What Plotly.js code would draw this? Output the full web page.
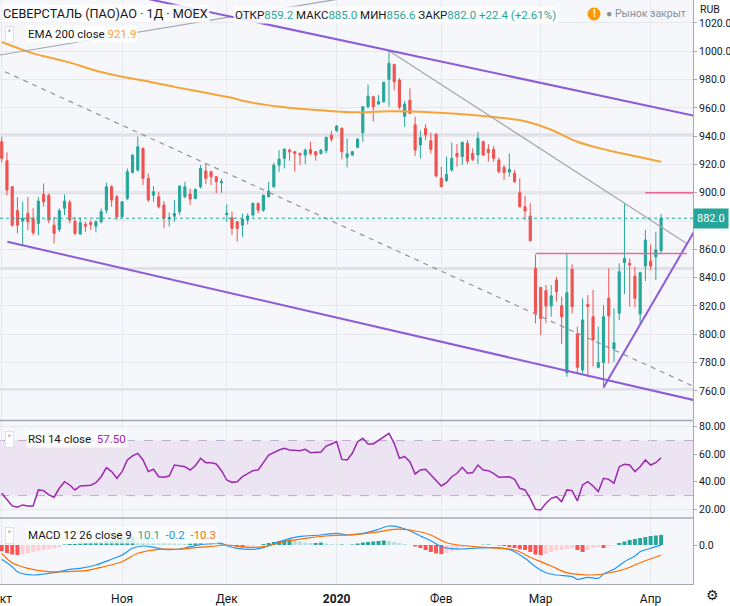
<!DOCTYPE html>
<html>
<head>
<meta charset="utf-8">
<script src="https://cdn.plot.ly/plotly-3.0.1.min.js"></script>
<style>
  html, body { margin: 0; padding: 0; background: #fff; }
  #chart { width: 730px; height: 606px; }
</style>
</head>
<body>
<div id="chart"></div>
<script>
// daily candles, 1 Oct 2019 .. 3 Apr 2020 (bar index = trading day)
const opens = [
  936.0, 922.6, 904.2, 887.3, 880.0, 885.4, 881.9, 878.3, 898.8, 898.3,
  877.1, 874.1, 889.0, 893.2, 880.0, 870.8, 877.6, 878.8, 876.4, 879.5,
  887.7, 904.2, 897.2,
  883.0, 896.0, 914.4, 916.0, 931.3, 910.1, 898.3, 897.2, 891.3, 881.5,
  883.4, 886.6, 897.2, 899.1, 896.0, 904.2, 915.3, 914.8, 911.3, 907.0,
  884.5, 882.3, 879.5, 877.1, 880.7, 884.2, 892.5, 887.7, 897.2, 904.2,
  919.5, 924.3, 930.1, 929.0, 927.8, 926.6, 930.6, 929.0, 927.8, 929.7, 940.7,
  943.8, 945.5, 925.0, 926.6, 932.0, 942.4, 960.8, 967.8, 962.7, 964.3,
  980.1, 990.7, 979.6, 954.0, 965.3, 948.0, 933.7, 945.5, 936.8, 941.3,
  910.2, 908.5, 916.0, 927.8, 925.5, 934.9, 927.8, 926.7, 936.1, 930.7,
  930.7, 923.1, 917.9, 914.6, 913.7, 900.0, 890.1, 883.5, 846.6,
  833.1, 830.8, 819.9, 838.3, 820.2, 772.8, 845.9, 800.2, 774.7, 821.1,
  812.4, 776.6, 780.0, 825.4, 789.6, 814.8, 850.6, 850.1, 841.1, 814.3, 848.2,
  851.7, 854.8, 859.2
];
const highs = [
  939.6, 928.5, 904.5, 897.0, 893.6, 897.0, 889.0, 897.0, 906.6, 899.5,
  883.0, 889.0, 898.8, 894.8, 883.0, 882.6, 879.5, 880.7, 880.5, 889.0,
  907.0, 905.4, 898.3,
  893.8, 917.2, 927.1, 939.6, 932.0, 913.6, 904.7, 900.7, 894.1, 886.0,
  894.8, 905.4, 907.8, 903.0, 903.0, 919.5, 920.7, 915.5, 911.8, 910.0,
  891.7, 886.6, 879.8, 885.4, 885.4, 893.0, 893.0, 898.5, 907.8, 921.2,
  930.1, 931.3, 931.3, 929.5, 928.3, 931.3, 936.0, 929.5, 931.0, 939.6, 943.8,
  947.8, 946.2, 938.4, 929.5, 938.4, 961.3, 976.6, 968.5, 969.0, 978.5,
  1000.5, 991.0, 981.0, 965.0, 973.8, 953.8, 943.9, 948.3, 942.4, 942.0,
  918.4, 925.5, 935.4, 934.4, 936.1, 937.3, 931.4, 943.1, 937.0, 934.2,
  933.0, 924.8, 919.6, 927.8, 916.0, 910.2, 897.7, 892.5, 856.0,
  833.5, 834.8, 834.8, 840.7, 826.5, 856.7, 849.4, 805.3, 825.4, 827.7,
  831.3, 805.3, 820.6, 846.6, 818.3, 850.1, 892.5, 853.6, 847.7, 844.2, 873.7,
  863.5, 872.5, 885.0
];
const lows = [
  921.2, 898.0, 876.0, 871.3, 863.0, 873.6, 870.0, 870.0, 890.1, 878.3,
  864.2, 872.4, 884.2, 878.3, 870.0, 870.5, 872.4, 873.6, 872.0, 878.3,
  885.4, 890.1, 880.7,
  882.5, 894.8, 913.5, 914.8, 905.4, 893.6, 893.6, 889.0, 874.8, 876.0,
  879.5, 884.2, 896.0, 891.3, 895.3, 903.0, 906.0, 905.4, 899.5, 900.0,
  879.5, 870.1, 865.4, 868.9, 877.6, 883.0, 885.4, 886.5, 896.5, 903.5,
  914.8, 917.2, 922.6, 914.8, 919.5, 920.3, 926.6, 922.6, 927.0, 928.0, 936.0,
  943.0, 923.6, 917.9, 926.0, 931.5, 936.0, 959.6, 950.2, 962.0, 963.5,
  960.8, 972.4, 958.9, 946.4, 955.6, 926.0, 924.3, 937.3, 927.8, 910.9,
  903.8, 907.8, 914.9, 918.4, 919.6, 920.3, 922.4, 920.3, 926.0, 922.0,
  922.0, 913.7, 909.0, 911.3, 907.1, 889.7, 880.7, 865.4, 807.7,
  799.4, 807.7, 812.4, 823.0, 793.1, 770.0, 814.8, 771.9, 772.3, 770.0,
  777.1, 775.9, 762.4, 779.4, 780.4, 810.0, 828.4, 819.5, 819.0, 807.7, 837.6,
  845.4, 838.3, 856.6
];
const closes = [
  924.3, 901.9, 877.1, 877.1, 882.0, 879.5, 871.7, 894.1, 893.6, 880.7,
  871.3, 887.3, 894.1, 880.7, 871.3, 878.8, 876.4, 877.6, 879.5, 886.6,
  904.2, 894.8, 883.0,
  893.6, 914.8, 926.6, 932.5, 910.1, 894.8, 900.7, 890.1, 881.9, 882.3,
  885.4, 904.7, 904.2, 895.5, 902.3, 917.2, 910.1, 911.3, 907.8, 908.0,
  885.5, 874.8, 874.8, 881.4, 883.5, 892.5, 887.7, 898.3, 901.2, 919.5,
  923.8, 930.8, 928.9, 927.8, 926.6, 930.1, 927.8, 926.6, 930.1, 939.1, 937.9,
  947.1, 929.0, 927.5, 929.0, 937.9, 960.8, 968.3, 960.8, 964.4, 978.0,
  991.4, 978.4, 960.5, 962.6, 956.1, 930.2, 938.9, 940.8, 930.7, 911.8,
  904.3, 913.0, 924.3, 925.5, 935.6, 922.4, 923.6, 938.5, 926.7, 928.3,
  924.3, 914.9, 914.2, 916.5, 907.8, 890.1, 887.1, 866.1, 814.8,
  811.2, 819.9, 827.2, 830.1, 812.4, 829.4, 819.5, 776.6, 810.1, 819.5,
  795.9, 780.1, 812.4, 812.9, 794.0, 844.2, 853.6, 848.9, 825.4, 843.5, 866.6,
  848.2, 859.6, 882.0
];

// month ticks (bar index of first trading day)
const monthStarts = [0, 23, 43, 64, 84, 103, 124];
const monthLabels = ['Окт', 'Ноя', 'Дек', '<b>2020</b>', 'Фев', 'Мар', 'Апр'];
const priceTicks = [760, 780, 800, 820, 840, 860, 900, 920, 940, 960, 980, 1000, 1020];

// EMA 200
const emaX = [0, 6, 12, 19, 23, 28, 33, 38, 43, 48, 54, 61, 68, 74, 80, 93, 100, 105, 110, 116, 120, 126];
const emaY = [1006.5, 998.5, 993.0, 985.3, 982.0, 978.6, 974.8, 971.3, 967.8, 963.5, 960.4, 958.3,
  956.9, 957.6, 957.2, 953.9, 950.5, 944.5, 936.0, 929.9, 926.7, 921.9];

// RSI 14
const rsiX = [0, 1, 2, 3, 4, 5, 6, 7, 8, 9, 10, 11, 12, 13, 14, 15, 16, 17, 18, 19,
  20, 21, 22, 23, 24, 25, 26, 27, 28, 29, 30, 31, 32, 33, 35, 36, 37, 38, 39, 40,
  41, 42, 43, 44, 45, 46, 48, 49, 50, 51, 53, 54, 55, 57, 58, 59, 61, 62, 63, 64,
  65, 66, 67, 68, 69, 70, 71, 72, 73, 74, 75, 76, 77, 78, 79, 80, 81, 82, 83, 84,
  85, 86, 87, 88, 89, 90, 91, 92, 93, 94, 95, 97, 98, 99, 100, 101, 102, 103, 104, 105,
  106, 107, 108, 109, 110, 111, 112, 113, 114, 115, 116, 117, 118, 119, 120, 121, 122, 123, 124, 125, 126];
const rsiY = [31.7, 26.8, 22.5, 21.5, 23.2, 22.5, 22.5, 34.1, 33.6, 30.5, 28.8, 35.3, 40.1, 37.7, 34.1, 37.0, 37.0, 37.5, 39.4, 43.7,
  50.3, 47.4, 42.6, 47.4, 55.9, 58.8, 60.7, 55.9, 47.4, 49.1, 43.7, 43.3, 44.2, 52.2, 51.0, 48.6, 51.7, 57.1, 53.9, 53.9,
  53.0, 48.1, 41.3, 39.6, 40.1, 43.7, 48.1, 48.6, 53.9, 59.5, 63.1, 64.3, 63.1, 62.6, 63.6, 61.2, 61.7, 66.0, 67.5, 69.2,
  56.3, 55.9, 60.7, 69.2, 71.6, 67.5, 67.5, 69.9, 72.8, 75.2, 68.0, 57.1, 58.3, 54.7, 45.7, 48.6, 49.1, 45.0, 40.9, 37.0,
  39.4, 43.7, 46.2, 50.5, 46.2, 46.7, 52.2, 48.6, 48.1, 46.2, 43.3, 43.7, 41.8, 35.3, 34.1, 28.0, 20.0, 19.6, 24.4, 28.0,
  29.2, 25.6, 34.1, 33.6, 26.1, 37.7, 40.1, 37.0, 32.9, 42.6, 41.8, 38.9, 51.0, 52.7, 52.2, 47.4, 51.0, 55.9, 52.2, 53.9, 57.5];

// MACD 12 26 9
const macdX = [0, 2, 3, 6, 8, 10, 13, 15, 18, 21, 23, 25, 27, 29, 31, 34, 36, 39, 42, 43, 45, 48, 50, 53, 56, 58,
  61, 64, 66, 69, 72, 74, 76, 78, 80, 82, 84, 86, 88, 90, 93, 96, 98, 100, 102, 104, 106, 109, 110, 112,
  114, 115, 117, 119, 121, 122, 124, 126];
const macdY = [-14.3, -21.7, -26.7, -30.0, -29.0, -27.7, -24.3, -23.3, -20.0, -14.3, -10.0, -3.3, -1.0, -2.3, -4.3, -4.0,
  -1.7, 1.0, 1.7, -0.7, -3.3, -4.3, -2.7, 3.3, 7.7, 9.0, 10.0, 11.7, 10.0, 11.7, 15.7, 19.0, 17.7, 14.3, 9.0, 4.3,
  -1.7, -3.7, -4.0, -3.3, -2.7, -3.3, -6.7, -13.3, -21.7, -27.7, -30.0, -31.7, -34.3, -32.3, -33.3, -29.0, -24.3,
  -16.7, -11.0, -6.7, -3.3, -0.2];
const signalX = [0, 2, 5, 9, 12, 16, 19, 23, 26, 30, 34, 37, 41, 43, 47, 50, 54, 58, 62, 66, 71, 75, 78, 82, 85,
  89, 93, 98, 101, 105, 108, 112, 115, 119, 122, 126];
const signalY = [-8.3, -17.7, -23.3, -26.7, -26.7, -25.7, -22.3, -16.7, -8.3, -4.3, -4.3, -2.7, -1.0, 0.0, -2.3, -1.7,
  3.3, 6.7, 9.0, 10.0, 12.3, 15.7, 15.0, 10.0, 2.3, -1.0, -2.7, -5.0, -12.3, -21.0, -27.7, -30.0, -29.0, -24.3, -17.7, -10.3];
const histY = [
  -6, -8, -9.5, -10,
  -9, -8, -7, -6, -5, -4, -3, -2,
  0.5, 1, 1, 1.5, 2, 2.5, 3, 3.5, 4, 5, 6, 7, 8, 8.5,
  8, 7, 6, 5, 4, 3, 2.5, 2, 1.5,
  1, 1.5, 2, 2, 1.5, 1, 0.5, 0.5, 0.2,
  -1, -2, -2.5, -2, -1,
  0, 1, 2, 3, 4,
  5, 5.5, 4.5, 3.5,
  2.5, 2, 2, 2.5, 1.5,
  1, 0.5, 0.5, 0.3, 0.5,
  1.5, 2.5, 3, 3.5, 4, 4.5, 4,
  3, 2, 1, 0, -1.5,
  -3, -5, -7, -8.5, -9, -8,
  -6, -4, -2.5, -1.5, -0.5, 0,
  0.3, 0.5, 0.2, -0.5, -1,
  -2, -3, -4, -5, -7,
  -9.5, -10, -9,
  -7, -5.5, -5, -4, -3,
  -5, -7,
  -5, -3, -2, -3, -1.5, -0.5,
  2, 3.5, 5, 6, 7, 8, 9, 9.5, 10.1
];

// user drawings: [bar index], [price]
const upperChannelX = [20, 140], upperChannelY = [1043.2, 948.4];
const lowerChannelX = [1.07, 140], lowerChannelY = [865.4, 746.9];
const supportX = [115, 135], supportY = [762.4, 889.6];
const peakLineX = [74, 130.9], peakLineY = [1000.3, 864.2];
const oldLineX = [-2, 70], oldLineY = [996.3, 1040.3];
const dashLineX = [0.63, 140], dashLineY = [985.5, 750.0];
const grayLevels = [941, 900, 846.5, 761];
const pinkBoxX = [102, 130.9], pinkBoxLevel = 857;
const pinkAlertX = [123, 133], pinkAlertLevel = 900;

const bars = closes.map((_, i) => i);
const last = closes.length - 1;

const GREEN = '#26a69a', RED = '#ef5350', PURPLE = '#8d5bd8', TXT = '#131722';
const W = 730, H = 606, M = {l: 0, r: 37, t: 0, b: 22};
const PW = W - M.l - M.r, PH = H - M.t - M.b;
const px = (x) => x / PW;
const py = (y) => (PH - y) / PH;

const histColors = histY.map((v, i) => {
  const prev = i > 0 ? histY[i - 1] : v;
  if (v >= 0) return v >= prev ? '#26a69a' : '#b2dfdb';
  return v < prev || i === 0 ? '#ff5252' : '#ffcdd2';
});

function seg(x, y, color, width, dash) {
  return {x: x, y: y, type: 'scatter', mode: 'lines', xaxis: 'x', yaxis: 'y',
    line: {color: color, width: width, dash: dash || 'solid'}, hoverinfo: 'skip'};
}

const traces = [
  {x: emaX, y: emaY, type: 'scatter', mode: 'lines', line: {color: '#f6a43a', width: 2, shape: 'spline'},
    xaxis: 'x', yaxis: 'y', hoverinfo: 'skip'},
  {x: bars, open: opens, high: highs, low: lows, close: closes, type: 'candlestick',
    xaxis: 'x', yaxis: 'y', whiskerwidth: 0,
    increasing: {line: {color: GREEN, width: 1}, fillcolor: GREEN},
    decreasing: {line: {color: RED, width: 1}, fillcolor: RED}, hoverinfo: 'skip'},
  seg(oldLineX, oldLineY, '#a3a6ad', 1.2),
  seg(peakLineX, peakLineY, '#a3a6ad', 1.2),
  seg(dashLineX, dashLineY, '#8f939c', 1.2, '5px,5px'),
  seg(upperChannelX, upperChannelY, PURPLE, 2),
  seg(lowerChannelX, lowerChannelY, PURPLE, 2),
  seg(supportX, supportY, PURPLE, 2),
  seg(pinkBoxX, [pinkBoxLevel, pinkBoxLevel], '#e8689a', 1.5),
  seg(pinkAlertX, [pinkAlertLevel, pinkAlertLevel], '#e8689a', 1.5),
  {x: rsiX, y: rsiY, type: 'scatter', mode: 'lines', line: {color: '#9c27b0', width: 1.5},
    xaxis: 'x', yaxis: 'y2', hoverinfo: 'skip'},
  {x: bars, y: histY, type: 'bar', marker: {color: histColors}, width: 0.75,
    xaxis: 'x', yaxis: 'y3', hoverinfo: 'skip'},
  {x: macdX, y: macdY, type: 'scatter', mode: 'lines', line: {color: '#2196f3', width: 1.2, shape: 'spline'},
    xaxis: 'x', yaxis: 'y3', hoverinfo: 'skip'},
  {x: signalX, y: signalY, type: 'scatter', mode: 'lines', line: {color: '#ff6d00', width: 1.2, shape: 'spline'},
    xaxis: 'x', yaxis: 'y3', hoverinfo: 'skip'}
];

const shapes = [
  {type: 'rect', xref: 'paper', yref: 'y2', x0: 0, x1: 1, y0: 30, y1: 70,
    fillcolor: 'rgba(156,39,176,0.09)', line: {width: 0}, layer: 'below'},
  {type: 'line', xref: 'paper', yref: 'y2', x0: 0, x1: 1, y0: 70, y1: 70,
    line: {color: '#c3aacd', width: 1, dash: 'dash'}, layer: 'below'},
  {type: 'line', xref: 'paper', yref: 'y2', x0: 0, x1: 1, y0: 30, y1: 30,
    line: {color: '#c3aacd', width: 1, dash: 'dash'}, layer: 'below'},
  {type: 'line', xref: 'paper', yref: 'y', x0: 0, x1: 1, y0: 880, y1: 880,
    line: {color: '#e6e8ed', width: 1}, layer: 'below'},
  {type: 'line', xref: 'paper', yref: 'y', x0: 0, x1: 1, y0: closes[last], y1: closes[last],
    line: {color: GREEN, width: 1, dash: 'dot'}},
  {type: 'line', xref: 'paper', yref: 'paper', x0: 0, x1: 1, y0: py(420.5), y1: py(420.5),
    line: {color: '#a5a8b0', width: 1.5}},
  {type: 'line', xref: 'paper', yref: 'paper', x0: 0, x1: 1, y0: py(518), y1: py(518),
    line: {color: '#a5a8b0', width: 1.5}},
  {type: 'circle', xref: 'paper', yref: 'paper', x0: px(587.5), x1: px(600.5), y0: py(20.5), y1: py(7.5),
    fillcolor: '#ff9800', line: {width: 0}}
];
grayLevels.forEach((lv) => shapes.push({type: 'line', xref: 'paper', yref: 'y', x0: 0, x1: 1, y0: lv, y1: lv,
  line: {color: '#dfe1e7', width: 3}, layer: 'below'}));

const chg = closes[last] - closes[last - 1];
const pct = chg / closes[last - 1] * 100;
const g = (s) => `<span style="color:${GREEN}">${s}</span>`;
const ohlc = `ОТКР${g(opens[last].toFixed(1))} МАКС${g(highs[last].toFixed(1))} ` +
  `МИН${g(lows[last].toFixed(1))} ЗАКР${g(closes[last].toFixed(1))} ` +
  g(`${chg >= 0 ? '+' : ''}${chg.toFixed(1)} (${chg >= 0 ? '+' : ''}${pct.toFixed(2)}%)`);

function label(x, y, text, size, extra) {
  return Object.assign({xref: 'paper', yref: 'paper', x: px(x), y: py(y), text: text,
    xanchor: 'left', yanchor: 'middle', showarrow: false, font: {size: size, color: TXT}}, extra || {});
}
function chevron(y) {
  return label(5, y, '˅', 10, {bgcolor: '#ffffff', bordercolor: '#dfe1e6', borderwidth: 1, borderpad: 2});
}

const annotations = [
  label(1, 14, 'СЕВЕРСТАЛЬ (ПАО)АО · 1Д · MOEX', 12.7, {bgcolor: 'rgba(255,255,255,0.85)'}),
  label(233, 15, ohlc, 11.5, {bgcolor: 'rgba(255,255,255,0.85)'}),
  label(594, 14, '<b>!</b>', 10, {xanchor: 'center', font: {size: 10, color: '#ffffff'}}),
  label(604, 14, '● Рынок закрыт', 10.5, {font: {size: 10.5, color: '#8a8e97'}}),
  label(698, 9, 'RUB', 10.5, {bgcolor: '#ffffff'}),
  chevron(34),
  label(26, 34, `EMA 200 close <span style="color:#f6a43a">${emaY[emaY.length - 1].toFixed(1)}</span>`, 11.5,
    {bgcolor: 'rgba(255,255,255,0.8)'}),
  chevron(439),
  label(26, 439, `RSI 14 close&nbsp; <span style="color:#9c27b0">${rsiY[rsiY.length - 1].toFixed(2)}</span>`, 11.5,
    {bgcolor: 'rgba(255,255,255,0.8)'}),
  chevron(535),
  label(26, 535, `MACD 12 26 close 9&nbsp; ${g(histY[last].toFixed(1))}&nbsp; ` +
    `<span style="color:#2196f3">${macdY[macdY.length - 1].toFixed(1)}</span>&nbsp; ` +
    `<span style="color:#ff6d00">${signalY[signalY.length - 1].toFixed(1)}</span>`, 11.5,
    {bgcolor: 'rgba(255,255,255,0.8)'}),
  {xref: 'paper', yref: 'y', x: 1, y: closes[last], text: closes[last].toFixed(1), xanchor: 'left',
    yanchor: 'middle', showarrow: false, bgcolor: GREEN, borderpad: 3,
    font: {size: 11, color: '#ffffff'}},
  label(712, 595, '⚙', 14, {xanchor: 'center'})
];

const yCommon = {side: 'right', showgrid: true, gridcolor: '#e6e8ed', zeroline: false, showline: true,
  linecolor: '#a5a8b0', ticks: 'outside', ticklen: 3, tickcolor: '#a5a8b0',
  tickfont: {size: 10.5, color: TXT}, fixedrange: true};

const layout = {
  width: W, height: H, margin: M,
  paper_bgcolor: '#ffffff', plot_bgcolor: '#f6f7fa',
  font: {family: 'Roboto, "Noto Sans", sans-serif', color: TXT},
  showlegend: false, dragmode: false, hovermode: false, boxgap: 0.42,
  xaxis: {range: [-0.33, 132.1], domain: [0, 1], anchor: 'y3', tickvals: monthStarts, ticktext: monthLabels,
    showgrid: true, gridcolor: '#e6e8ed', zeroline: false, showline: true, linecolor: '#a5a8b0',
    ticks: '', ticklabelstandoff: 4, ticklabeloverflow: 'allow',
    tickfont: {size: 12, color: TXT}, rangeslider: {visible: false}, fixedrange: true},
  yaxis: Object.assign({}, yCommon, {domain: [py(420), 1], range: [739.4, 1036.2],
    tickvals: priceTicks, tickformat: '.1f', anchor: 'x'}),
  yaxis2: Object.assign({}, yCommon, {domain: [py(518), py(421)], range: [13.7, 84.2],
    tickvals: [20, 40, 60, 80], tickformat: '.2f', anchor: 'x'}),
  yaxis3: Object.assign({}, yCommon, {domain: [0, py(518)], range: [-39, 27],
    tickvals: [0], tickformat: '.1f', anchor: 'x', showgrid: false}),
  shapes: shapes,
  annotations: annotations
};

Plotly.newPlot('chart', traces, layout, {staticPlot: true, displayModeBar: false});
</script>
</body>
</html>
